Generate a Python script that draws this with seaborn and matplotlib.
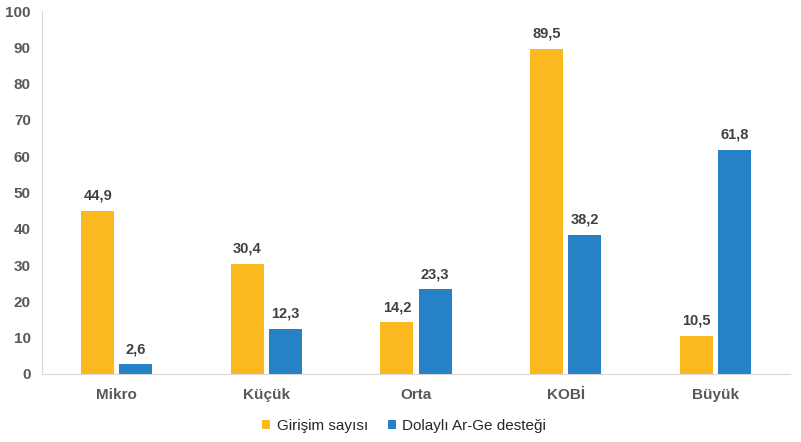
import pandas as pd
import seaborn as sns
import matplotlib.pyplot as plt

# dados
kategoriler = ['Mikro', 'Küçük', 'Orta', 'KOBİ', 'Büyük']
girisim = [44.9, 30.4, 14.2, 89.5, 10.5]
destek = [2.6, 12.3, 23.3, 38.2, 61.8]
seriler = ['Girişim sayısı', 'Dolaylı Ar-Ge desteği']

df = pd.DataFrame({'kategori': kategoriler * 2,
                   'seri': [seriler[0]] * 5 + [seriler[1]] * 5,
                   'deger': girisim + destek})

sns.set_style('white')
plt.rcParams['font.family'] = ['Liberation Sans', 'DejaVu Sans']

fig = plt.figure(figsize=(8.01, 4.42), dpi=100)
ax = fig.add_axes([0.0524, 0.154, 0.934, 0.821])

graf = sns.barplot(data=df, x='kategori', y='deger', hue='seri', errorbar=None,
                   palette=['#FBB91F', '#2681C6'], saturation=1, linewidth=0,
                   width=0.51, gap=0.135, ax=ax)

# etiketler
for c in graf.containers:
    graf.bar_label(c, labels=[f'{v:.1f}'.replace('.', ',') for v in c.datavalues],
                   padding=6, fontsize=10.5, fontweight='bold', color='#404040')

ax.set_ylim(0, 100)
ax.set_xlim(-0.5, 4.5)
ax.set_yticks(range(0, 101, 10))
ax.set_xlabel('')
ax.set_ylabel('')
for s in ['top', 'right']:
    ax.spines[s].set_visible(False)
for s in ['left', 'bottom']:
    ax.spines[s].set_color('#D9D9D9')
ax.tick_params(axis='y', length=5, color='#D9D9D9', labelsize=11, labelcolor='#595959', pad=3)
ax.tick_params(axis='x', length=0, labelsize=11, labelcolor='#595959', pad=10)
for t in ax.get_xticklabels() + ax.get_yticklabels():
    t.set_fontweight('bold')
# kategori ayiraclari
ax.set_xticks([i + 0.5 for i in range(-1, 5)], minor=True)
ax.tick_params(axis='x', which='minor', length=5, color='#D9D9D9')

leg = ax.legend(loc='upper center', bbox_to_anchor=(0.484, -0.085), ncol=2, frameon=False,
                fontsize=11, handlelength=0.55, handleheight=0.55, handletextpad=0.4,
                columnspacing=1.3)
for t in leg.get_texts():
    t.set_color('#262626')

fig.savefig('out.png', dpi=100)
